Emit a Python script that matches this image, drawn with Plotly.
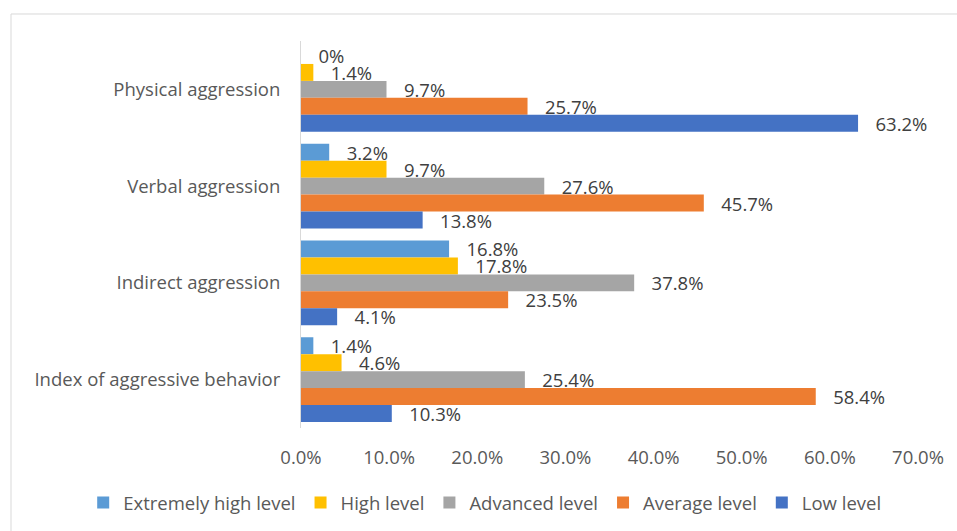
import plotly.graph_objects as go

categories = ["Physical aggression", "Verbal aggression", "Indirect aggression", "Index of aggressive behavior"]
series_names = ["Extremely high level", "High level", "Advanced level", "Average level", "Low level"]
extremely_high = [0, 3.2, 16.8, 1.4]
high = [1.4, 9.7, 17.8, 4.6]
advanced = [9.7, 27.6, 37.8, 25.4]
average = [25.7, 45.7, 23.5, 58.4]
low = [63.2, 13.8, 4.1, 10.3]
tick_vals = [0, 10, 20, 30, 40, 50, 60, 70]
tick_text = ["0.0%", "10.0%", "20.0%", "30.0%", "40.0%", "50.0%", "60.0%", "70.0%"]

colors = ["#5B9BD5", "#FFC000", "#A5A5A5", "#ED7D31", "#4472C4"]
FONT = "Open Sans"
FS = 18.5

def fmt(v):
    return "0%" if v == 0 else f"{v:.1f}%"

fig = go.Figure()
for name, vals, col in zip(series_names, [extremely_high, high, advanced, average, low], colors):
    fig.add_trace(go.Bar(
        y=categories, x=vals, name=name, orientation="h",
        marker=dict(color=col, line=dict(width=0)),
        text=[fmt(v) for v in vals],
        texttemplate="\u00a0\u00a0\u00a0%{text}",
        textposition="outside", constraintext="none", cliponaxis=False,
        textfont=dict(family=FONT, size=FS, color="#404040"),
    ))

fig.update_layout(
    width=957, height=531,
    barmode="group", bargap=0.124, bargroupgap=0,
    margin=dict(l=301, r=39, t=41, b=103, autoexpand=False),
    paper_bgcolor="white", plot_bgcolor="white",
    font=dict(family=FONT, size=FS, color="#595959"),
    xaxis=dict(range=[0, 70], tickvals=tick_vals, ticktext=tick_text, showgrid=False,
               zeroline=False, showline=False, ticklabelstandoff=16,
               tickfont=dict(family=FONT, size=FS, color="#595959")),
    yaxis=dict(autorange="reversed", showgrid=False, showline=True, linecolor="#D9D9D9",
               linewidth=1, ticks="", ticklabelstandoff=16,
               tickfont=dict(family=FONT, size=FS, color="#595959")),
    legend=dict(orientation="h", x=-0.353, xanchor="left", y=-0.194, yanchor="middle",
                font=dict(family=FONT, size=FS, color="#595959"), traceorder="normal"),
    showlegend=True,
    shapes=[dict(type="rect", xref="paper", yref="paper", x0=-0.470, x1=1.08, y0=-0.32, y1=1.0698,
                 line=dict(color="#D9D9D9", width=1), fillcolor="rgba(0,0,0,0)", layer="below")],
)

fig.write_html("out.html")
